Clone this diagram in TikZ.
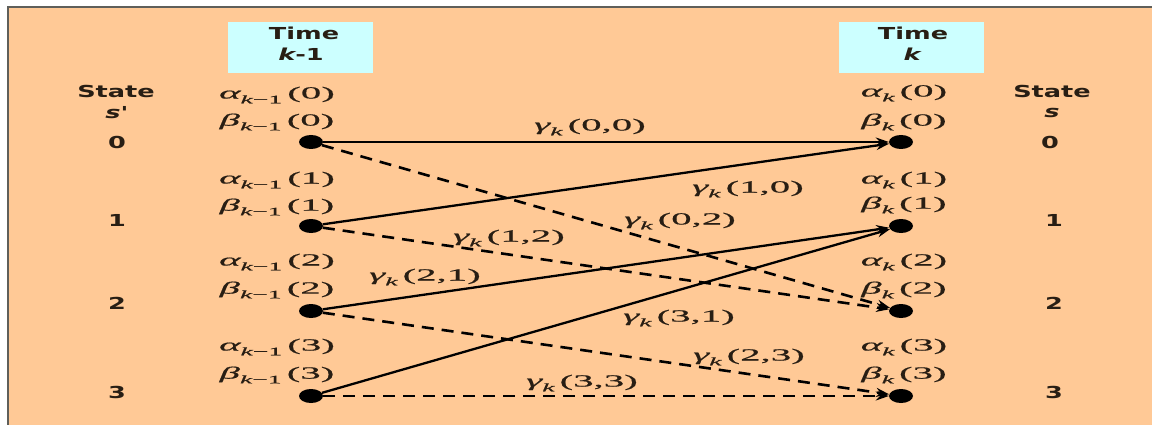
\documentclass[tikz,border=0pt]{standalone}
\usepackage{fontspec}
\newfontfamily\statefont[FakeStretch=1.55]{DejaVu Sans}
\newfontfamily\mfont[FakeStretch=2.4,FakeBold=0.6]{Liberation Serif}
\usetikzlibrary{shapes.geometric,arrows.meta}
\definecolor{peach}{RGB}{255,201,150}
\definecolor{lcyan}{RGB}{204,255,255}
\definecolor{frame}{RGB}{95,95,90}
\definecolor{txt}{RGB}{40,30,20}
\newcommand{\lab}[3]{{\itshape #1}\raisebox{-0.28em}{\fontsize{11.5}{12}\selectfont #2}\hspace{0.3em}#3}
\tikzset{
  dot/.style={ellipse,fill=black,minimum width=24pt,minimum height=14pt,inner sep=0pt},
  solidedge/.style={line width=2.3pt,-{Stealth[length=13pt,width=9pt]}},
  dashedge/.style={line width=2.6pt,dash pattern=on 12pt off 8pt,-{Stealth[length=13pt,width=9pt]}},
  mathlbl/.style={inner sep=0pt,text=txt,font=\mfont\fontsize{17}{18}\selectfont},
  statelbl/.style={inner sep=0pt,text=txt,font=\statefont\bfseries\fontsize{16.5}{18}\selectfont},
  timebox/.style={fill=lcyan,draw=none,minimum width=145pt,minimum height=51pt,inner sep=0pt}
}
\begin{document}
\begin{tikzpicture}[x=1pt,y=-1pt]
\useasboundingbox (0,0) rectangle (1152,425);
\fill[white] (0,0) rectangle (1152,425);
\fill[peach] (8,8) rectangle (1152,425);
\draw[frame,line width=2pt] (8,425) -- (8,7.5) -- (1152,7.5);
% time boxes
\node[timebox] (tb1) at (300.5,47.5) {};
\node[timebox] (tb2) at (911.5,47.5) {};
\node[statelbl] (t1a) at (304,33) {Time};
\node[statelbl] (t1b) at (301,54) {\itshape k\upshape -1};
\node[statelbl] (t2a) at (913,33) {Time};
\node[statelbl] (t2b) at (912,54) {\itshape k};
% state labels left
\node[statelbl] (sl) at (116,91) {State};
\node[statelbl] (slp) at (117,113) {\itshape s'};
\node[statelbl] (sl0) at (117,142) {0};
\node[statelbl] (sl1) at (117,220) {1};
\node[statelbl] (sl2) at (117,303) {2};
\node[statelbl] (sl3) at (117,392) {3};
% state labels right
\node[statelbl] (sr) at (1052,91) {State};
\node[statelbl] (srs) at (1052,113) {\itshape s};
\node[statelbl] (sr0) at (1050,142) {0};
\node[statelbl] (sr1) at (1054,220) {1};
\node[statelbl] (sr2) at (1054,303) {2};
\node[statelbl] (sr3) at (1054,392) {3};
% left alpha/beta
\node[mathlbl] (la0) at (277,95) {\lab{α}{\itshape k\upshape −1}{(0)}};
\node[mathlbl] (lb0) at (277,122) {\lab{β}{\itshape k\upshape −1}{(0)}};
\node[mathlbl] (la1) at (277,180) {\lab{α}{\itshape k\upshape −1}{(1)}};
\node[mathlbl] (lb1) at (277,207) {\lab{β}{\itshape k\upshape −1}{(1)}};
\node[mathlbl] (la2) at (277,262) {\lab{α}{\itshape k\upshape −1}{(2)}};
\node[mathlbl] (lb2) at (277,290) {\lab{β}{\itshape k\upshape −1}{(2)}};
\node[mathlbl] (la3) at (277,347) {\lab{α}{\itshape k\upshape −1}{(3)}};
\node[mathlbl] (lb3) at (277,375) {\lab{β}{\itshape k\upshape −1}{(3)}};
% right alpha/beta
\node[mathlbl] (ra0) at (904,93) {\lab{α}{\itshape k}{(0)}};
\node[mathlbl] (rb0) at (904,122) {\lab{β}{\itshape k}{(0)}};
\node[mathlbl] (ra1) at (904,180) {\lab{α}{\itshape k}{(1)}};
\node[mathlbl] (rb1) at (904,205) {\lab{β}{\itshape k}{(1)}};
\node[mathlbl] (ra2) at (904,262) {\lab{α}{\itshape k}{(2)}};
\node[mathlbl] (rb2) at (904,290) {\lab{β}{\itshape k}{(2)}};
\node[mathlbl] (ra3) at (904,347) {\lab{α}{\itshape k}{(3)}};
\node[mathlbl] (rb3) at (904,375) {\lab{β}{\itshape k}{(3)}};
% dots
\node[dot] (l0) at (311,142) {};
\node[dot] (l1) at (311,226) {};
\node[dot] (l2) at (311,311) {};
\node[dot] (l3) at (311,396) {};
\node[dot] (r0) at (901,142) {};
\node[dot] (r1) at (901,226) {};
\node[dot] (r2) at (901,311) {};
\node[dot] (r3) at (901,396) {};
% edges
\draw[solidedge] (l0) -- (r0);
\draw[solidedge] (l1) -- (r0);
\draw[dashedge] (l0) -- (r2);
\draw[dashedge] (l1) -- (r2);
\draw[solidedge] (l2) -- (r1);
\draw[solidedge] (l3) -- (r1);
\draw[dashedge] (l2) -- (r3);
\draw[dashedge] (l3) -- (r3);
% gamma labels
\node[mathlbl] (g00) at (590,127) {\lab{γ}{\itshape k}{(0,0)}};
\node[mathlbl] (g10) at (748,189) {\lab{γ}{\itshape k}{(1,0)}};
\node[mathlbl] (g02) at (680,221) {\lab{γ}{\itshape k}{(0,2)}};
\node[mathlbl] (g12) at (509,238) {\lab{γ}{\itshape k}{(1,2)}};
\node[mathlbl] (g21) at (425,277) {\lab{γ}{\itshape k}{(2,1)}};
\node[mathlbl] (g31) at (679,318) {\lab{γ}{\itshape k}{(3,1)}};
\node[mathlbl] (g23) at (749,357) {\lab{γ}{\itshape k}{(2,3)}};
\node[mathlbl] (g33) at (582,383) {\lab{γ}{\itshape k}{(3,3)}};
\end{tikzpicture}
\end{document}
